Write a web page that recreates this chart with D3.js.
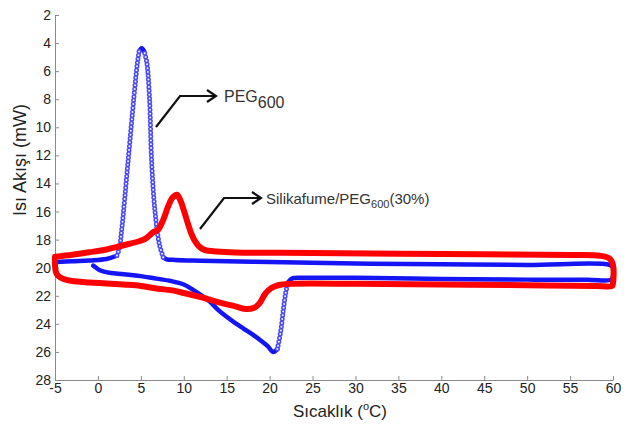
<!DOCTYPE html>
<html>
<head>
<meta charset="utf-8">
<script src="https://cdn.jsdelivr.net/npm/d3@7"></script>
<style>
  body { margin: 0; background: #fff; }
  svg { font-family: "Liberation Sans", Arial, sans-serif; }
  .axis path, .axis line { stroke: #8a8a8a; }
  .axis text { fill: #222; font-size: 14px; }
</style>
</head>
<body>
<svg width="640" height="432"></svg>
<script>
// PEG600 : heating branch (lower) then cooling branch (upper)
var pegTemp = [-0.55, 0.0, 0.6, 1.5, 3.0, 5.0, 6.8, 8.5, 10.0, 11.0, 12.0, 13.0, 14.0, 15.0, 16.0, 17.0, 18.0, 19.0, 19.8, 20.4,
  20.9, 21.3, 21.6, 21.9, 22.2, 22.7, 24, 30, 40, 50, 57, 59.8, 60, 60, 59.6,
  50, 40, 30, 20, 12, 9, 8, 7.6, 7.15, 6.65, 6.26, 6.0, 5.7, 5.4, 5.1, 4.8, 4.6, 4.2, 3.5, 2.77, 2.5, 2.2,
  1.0, -1, -3, -4.8];
var pegFlow = [19.85, 20.1, 20.27, 20.38, 20.46, 20.6, 20.78, 20.95, 21.2, 21.55, 21.95, 22.4, 23.0, 23.5, 23.95, 24.35, 24.75, 25.2, 25.6, 26.0,
  25.8, 24.5, 23.0, 21.7, 21.0, 20.75, 20.72, 20.72, 20.8, 20.85, 20.85, 20.85, 20.6, 20.0, 19.8,
  19.8, 19.75, 19.7, 19.6, 19.5, 19.45, 19.4, 19.25, 18.3, 16.0, 12.5, 7.8, 5.4, 4.6, 4.37, 4.6, 5.4, 7.8, 12.5, 17.3, 18.6, 19.15,
  19.38, 19.48, 19.54, 19.6];

// Silikafume/PEG600 (30%) : closed loop
var silTemp = [-5, -5, -4.9, -4.6, -4.0, -3, -1, 1, 3, 5, 7, 8.5, 10, 12, 14, 16, 17.3, 18.2, 18.8, 19.5, 20.2, 21, 22.5,
  30, 40, 50, 58, 59.9, 60, 60, 59.6, 58.5, 55, 45, 35, 25, 16, 13.8, 12.5, 11.9, 11.3, 10.9, 10.5, 10.1, 9.6, 9.2,
  8.7, 8.2, 7.6, 7.0, 6.5, 5.5, 4.9, 3, 1.0, -1, -3, -5];
var silFlow = [19.22, 19.8, 20.3, 20.6, 20.8, 20.95, 21.05, 21.12, 21.2, 21.3, 21.5, 21.6, 21.8, 22.1, 22.45, 22.75, 22.95, 22.85, 22.55, 21.85, 21.45, 21.25, 21.15,
  21.15, 21.2, 21.25, 21.3, 21.3, 21.1, 19.8, 19.35, 19.15, 19.1, 19.05, 19.0, 18.95, 18.92, 18.85, 18.75, 18.55, 18.1, 17.6, 16.9, 16.1, 15.2, 14.8,
  15.0, 15.6, 16.6, 17.3, 17.45, 17.95, 18.1, 18.4, 18.7, 18.9, 19.08, 19.22];

var xTicks = [-5, 0, 5, 10, 15, 20, 25, 30, 35, 40, 45, 50, 55, 60];
var yTicks = [2, 4, 6, 8, 10, 12, 14, 16, 18, 20, 22, 24, 26, 28];

function draw() {
  const svg = d3.select('svg');
  const left = 55, right = 613, plotTop = 15, bottom = 380;

  const x = d3.scaleLinear().domain([-5, 60]).range([left, right]);
  const y = d3.scaleLinear().domain([2, 28]).range([plotTop, bottom]);

  svg.append('g')
    .attr('class', 'axis')
    .attr('transform', `translate(0, ${bottom})`)
    .call(d3.axisBottom(x).tickValues(xTicks).tickFormat(d => String(d))
      .tickSizeInner(-4).tickSizeOuter(0).tickPadding(3));

  svg.append('g')
    .attr('class', 'axis')
    .attr('transform', `translate(${left}, 0)`)
    .call(d3.axisLeft(y).tickValues(yTicks).tickFormat(d => String(d))
      .tickSizeInner(-4).tickSizeOuter(0).tickPadding(4));

  // axis titles
  svg.append('text')
    .attr('transform', 'translate(26, 160) rotate(-90)')
    .attr('text-anchor', 'middle')
    .attr('font-size', 18)
    .attr('fill', '#222')
    .text('Isı Akışı (mW)');

  const xt = svg.append('text')
    .attr('x', 340).attr('y', 417)
    .attr('text-anchor', 'middle')
    .attr('font-size', 17)
    .attr('fill', '#222');
  xt.append('tspan').text('Sıcaklık (');
  xt.append('tspan').attr('font-size', 11).attr('dy', -7).text('o');
  xt.append('tspan').attr('dy', 7).text('C)');

  const line = d3.line()
    .x(d => x(d[0]))
    .y(d => y(d[1]))
    .curve(d3.curveCatmullRom.alpha(0.5));

  const points = (ts, vs) => ts.map((t, i) => [t, vs[i]]);

  // split the PEG curve into solid runs and steep (sparse marker) runs
  const pegPts = points(pegTemp, pegFlow);
  const runs = [];
  let cur = null;
  for (let i = 0; i < pegPts.length - 1; i++) {
    const dx = Math.abs(x(pegPts[i + 1][0]) - x(pegPts[i][0]));
    const dy = Math.abs(y(pegPts[i + 1][1]) - y(pegPts[i][1]));
    const steep = dx > 0.3 && dy > 2.5 * dx;
    if (!cur || cur.steep !== steep) {
      cur = { steep: steep, pts: [pegPts[i]] };
      runs.push(cur);
    }
    cur.pts.push(pegPts[i + 1]);
  }

  const blue = svg.append('g');
  runs.filter(r => !r.steep).forEach(r => {
    blue.append('path')
      .attr('d', line(r.pts))
      .attr('fill', 'none')
      .attr('stroke', '#1414f5')
      .attr('stroke-width', 4.5)
      .attr('stroke-linecap', 'round')
      .attr('stroke-linejoin', 'round');
  });
  runs.filter(r => r.steep).forEach(r => {
    blue.append('path')
      .attr('d', line(r.pts))
      .attr('fill', 'none')
      .attr('stroke', '#4a4af2')
      .attr('stroke-width', 5)
      .attr('stroke-linecap', 'round')
      .attr('stroke-dasharray', '0 3.8');
    blue.append('path')
      .attr('d', line(r.pts))
      .attr('fill', 'none')
      .attr('stroke', '#eef')
      .attr('stroke-width', 2)
      .attr('stroke-linecap', 'round')
      .attr('stroke-dasharray', '0 3.8');
  });

  svg.append('path')
    .attr('d', line(points(silTemp, silFlow)))
    .attr('fill', 'none')
    .attr('stroke', '#ff0000')
    .attr('stroke-width', 6)
    .attr('stroke-linecap', 'round')
    .attr('stroke-linejoin', 'round');

  // annotation arrows
  function arrow(pts) {
    const g = svg.append('g').attr('fill', 'none').attr('stroke', '#111').attr('stroke-width', 2.2);
    g.append('path').attr('d', d3.line()(pts));
    const e = pts[pts.length - 1];
    g.append('path').attr('d', d3.line()([[e[0] - 9, e[1] - 6], e, [e[0] - 9, e[1] + 6]]));
  }
  arrow([[156, 127], [180, 96], [216, 96]]);
  arrow([[200, 229], [224, 198], [261, 198]]);

  const t1 = svg.append('text').attr('x', 224).attr('y', 102).attr('font-size', 16).attr('fill', '#333');
  t1.append('tspan').text('PEG');
  t1.append('tspan').attr('dy', 6).text('600');

  const t2 = svg.append('text').attr('x', 266).attr('y', 204).attr('font-size', 15).attr('fill', '#333');
  t2.append('tspan').text('Silikafume/PEG');
  t2.append('tspan').attr('dy', 4).attr('font-size', 11).text('600');
  t2.append('tspan').attr('dy', -4).text('(30%)');
}

draw();
</script>
</body>
</html>
